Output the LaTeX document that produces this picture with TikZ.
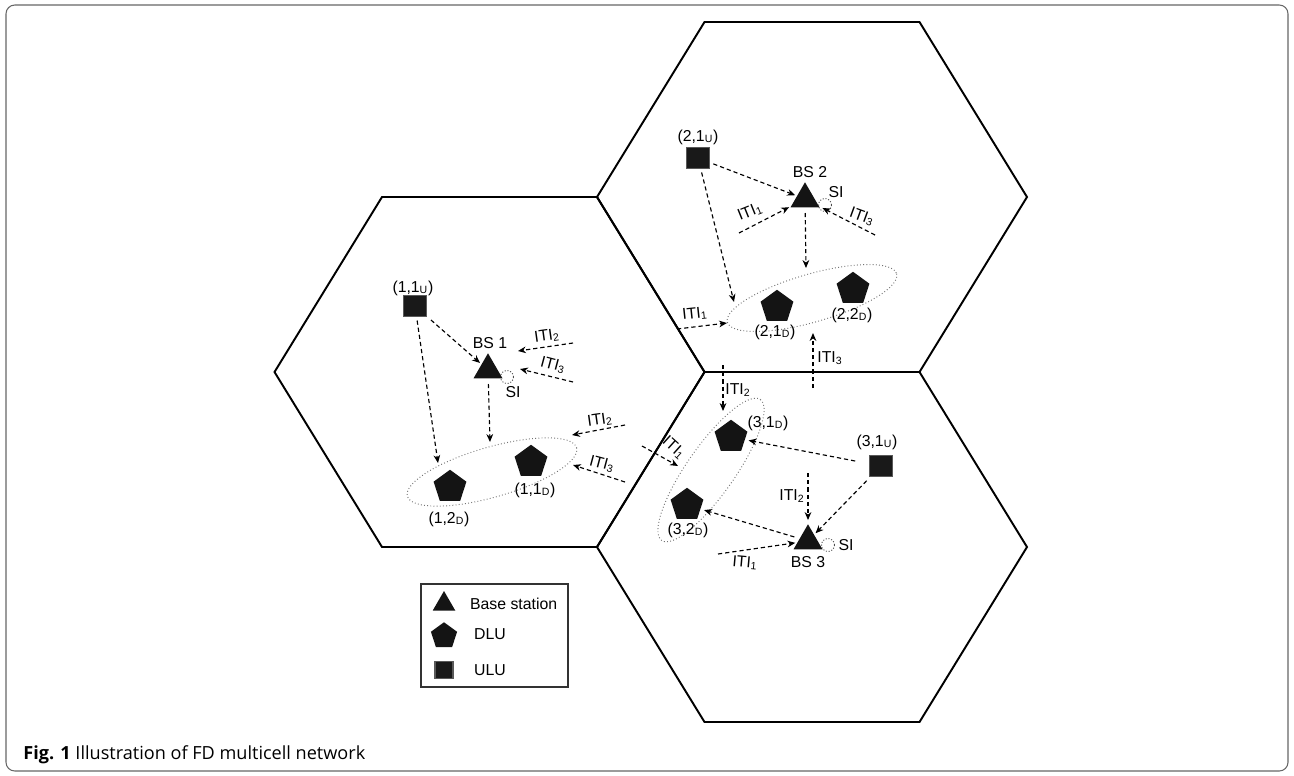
\documentclass[tikz,border=0pt]{standalone}
\usepackage{fontspec}
\setmainfont{Liberation Sans}
\newfontfamily\capfont{Open Sans}
\usetikzlibrary{shapes.geometric,arrows.meta}

\begin{document}
\begin{tikzpicture}[x=0.02cm,y=-0.02cm,
  cell/.style={line width=1.1pt,line join=miter},
  bs/.style={regular polygon,regular polygon sides=3,fill=black!92,inner sep=0pt,minimum size=0.67cm},
  dlu/.style={regular polygon,regular polygon sides=5,fill=black!92,inner sep=0pt,minimum size=0.69cm},
  ulu/.style={rectangle,fill=black!90,draw=black!65,line width=0.6pt,inner sep=0pt,minimum width=0.46cm,minimum height=0.42cm},
  lbl/.style={font=\fontsize{9}{10}\selectfont,inner sep=1pt},
  link/.style={dash pattern=on 2.4pt off 1.7pt,line width=0.65pt,-{Stealth[length=4.5pt,width=3.8pt,inset=1.4pt]}},
  group/.style={black!55,dash pattern=on 0.5pt off 1.3pt,line width=0.55pt},
  siloop/.style={black!70,dash pattern=on 0.6pt off 1pt,line width=0.5pt}]
  \useasboundingbox (0,0) rectangle (1294,775);

  % frame and caption
  \draw[black!60,line width=0.6pt,rounded corners=5pt] (6,5) rectangle (1288,771);
  \node[anchor=west,font=\capfont\fontsize{10.3}{12}\selectfont,inner sep=0pt] (cap) at (23,755) {\textbf{Fig. 1} Illustration of FD multicell network};

  % the three cells
  \foreach \cx/\cy in {489.5/372,812/197,812/547}
    \draw[cell,shift={(\cx,\cy)}] (-215,0) -- (-107.5,-175) -- (107.5,-175) -- (215,0) -- (107.5,175) -- (-107.5,175) -- cycle;

  % user groups
  \draw[group,rotate around={16:(812,298)}] (812,298) ellipse [x radius=88,y radius=24];
  \draw[group,rotate around={16:(492,472)}] (492,472) ellipse [x radius=88,y radius=25];
  \draw[group,rotate around={55:(711,470)}] (711,470) ellipse [x radius=86,y radius=24];

  % SI loops
  \coordinate (sl1) at (507,377);
  \coordinate (sl2) at (825,205);
  \coordinate (sl3) at (828,545);
  \foreach \s in {sl1,sl2,sl3}
    \draw[siloop] (\s) circle (6.5);

  % cell 2
  \node[ulu] (u2) at (698,158) {};
  \node[lbl] (u2l) at (698,137) {(2,1\textsubscript{U})};
  \node[bs] (bs2) at (805,199) {};
  \node[lbl] (bs2l) at (810,172) {BS 2};
  \node[lbl] (si2) at (836,192) {SI};
  \node[dlu] (d21) at (777,307) {};
  \node[dlu] (d22) at (853,289) {};
  \node[lbl] (d21l) at (775,332) {(2,1\textsubscript{D})};
  \node[lbl] (d22l) at (852,315) {(2,2\textsubscript{D})};
  \coordinate (g2a) at (806,268);
  \coordinate (g2b) at (734,302);
  \coordinate (i21) at (739,233);
  \coordinate (i23) at (875,235);
  \coordinate (x1s) at (677,329);
  \coordinate (x1e) at (727,323);
  \coordinate (x3s) at (813,388);
  \coordinate (x3e) at (813,333);
  \draw[link,shorten <=2pt,shorten >=1pt] (u2) -- (bs2);
  \draw[link,shorten <=2pt] (u2) -- (g2b);
  \draw[link,shorten <=3pt] (bs2) -- (g2a);
  \draw[link,shorten >=1pt] (i21) -- (bs2);
  \draw[link,shorten >=2pt] (i23) -- (bs2);
  \draw[link] (x1s) -- (x1e);
  \draw[link] (x3s) -- (x3e);
  \node[lbl,rotate=22] (t21) at (750,212) {ITI\textsubscript{1}};
  \node[lbl,rotate=-20] (t23) at (862,217) {ITI\textsubscript{3}};
  \node[lbl,rotate=6] (tx1) at (695,314) {ITI\textsubscript{1}};
  \node[lbl] (tx3) at (830,358) {ITI\textsubscript{3}};

  % cell 1
  \node[ulu] (u1) at (415,306) {};
  \node[lbl] (u1l) at (413,288) {(1,1\textsubscript{U})};
  \node[bs] (bs1) at (488,370) {};
  \node[lbl] (bs1l) at (490,343) {BS 1};
  \node[lbl] (si1) at (513,392) {SI};
  \node[dlu] (d11) at (531,462) {};
  \node[dlu] (d12) at (450,487) {};
  \node[lbl] (d11l) at (535,490) {(1,1\textsubscript{D})};
  \node[lbl] (d12l) at (449,519) {(1,2\textsubscript{D})};
  \coordinate (g1a) at (438,463);
  \coordinate (g1b) at (490,442);
  \coordinate (a2s) at (573,343);
  \coordinate (a2e) at (518,351);
  \coordinate (a3s) at (573,382);
  \coordinate (a3e) at (520,369);
  \coordinate (b2s) at (625,425);
  \coordinate (b2e) at (572,435);
  \coordinate (b3s) at (625,482);
  \coordinate (b3e) at (573,465);
  \coordinate (c1s) at (642,446);
  \coordinate (c1e) at (678,466);
  \draw[link,shorten <=3pt,shorten >=1pt] (u1) -- (bs1);
  \draw[link,shorten <=2pt] (u1) -- (g1a);
  \draw[link,shorten <=3pt] (bs1) -- (g1b);
  \draw[link] (a2s) -- (a2e);
  \draw[link] (a3s) -- (a3e);
  \draw[link] (b2s) -- (b2e);
  \draw[link] (b3s) -- (b3e);
  \draw[link] (c1s) -- (c1e);
  \node[lbl,rotate=8] (t12) at (547,336) {ITI\textsubscript{2}};
  \node[lbl,rotate=-15] (t13) at (553,365) {ITI\textsubscript{3}};
  \node[lbl,rotate=8] (t12b) at (600,420) {ITI\textsubscript{2}};
  \node[lbl,rotate=-15] (t13b) at (602,464) {ITI\textsubscript{3}};
  \node[lbl,rotate=-42] (t31) at (674,448) {ITI\textsubscript{1}};

  % cell 3
  \node[ulu] (u3) at (881,466) {};
  \node[lbl] (u3l) at (877,442) {(3,1\textsubscript{U})};
  \node[bs] (bs3) at (808,541) {};
  \node[lbl] (bs3l) at (808,562) {BS 3};
  \node[lbl] (si3) at (846,545) {SI};
  \node[dlu] (d31) at (731,437) {};
  \node[dlu] (d32) at (687,505) {};
  \node[lbl] (d31l) at (768,423) {(3,1\textsubscript{D})};
  \node[lbl] (d32l) at (688,530) {(3,2\textsubscript{D})};
  \coordinate (k2s) at (723,365);
  \coordinate (k2e) at (723,411);
  \coordinate (m2s) at (808,473);
  \coordinate (n1s) at (718,554);
  \draw[link,shorten <=8pt,shorten >=2pt] (u3) -- (d31);
  \draw[link,shorten <=3pt,shorten >=1pt] (u3) -- (bs3);
  \draw[link,shorten >=2pt] (m2s) -- (bs3);
  \draw[link,shorten <=3pt,shorten >=2pt] (bs3) -- (d32);
  \draw[link,shorten >=1pt] (n1s) -- (bs3);
  \draw[link] (k2s) -- (k2e);
  \node[lbl] (t32) at (738,390) {ITI\textsubscript{2}};
  \node[lbl] (t32b) at (792,496) {ITI\textsubscript{2}};
  \node[lbl,rotate=-5] (t31b) at (745,563) {ITI\textsubscript{1}};

  % legend
  \draw[black!80,line width=0.7pt] (421,584) rectangle (568,687);
  \node[bs,minimum size=0.52cm] (kbs) at (444,604) {};
  \node[lbl,anchor=west] (kbsl) at (468,604) {Base station};
  \node[dlu,minimum size=0.55cm] (kdlu) at (444,636) {};
  \node[lbl,anchor=west] (kdlul) at (472,634) {DLU};
  \node[ulu,minimum width=0.36cm,minimum height=0.34cm] (kulu) at (444,670) {};
  \node[lbl,anchor=west] (kulul) at (472,670) {ULU};
\end{tikzpicture}
\end{document}
